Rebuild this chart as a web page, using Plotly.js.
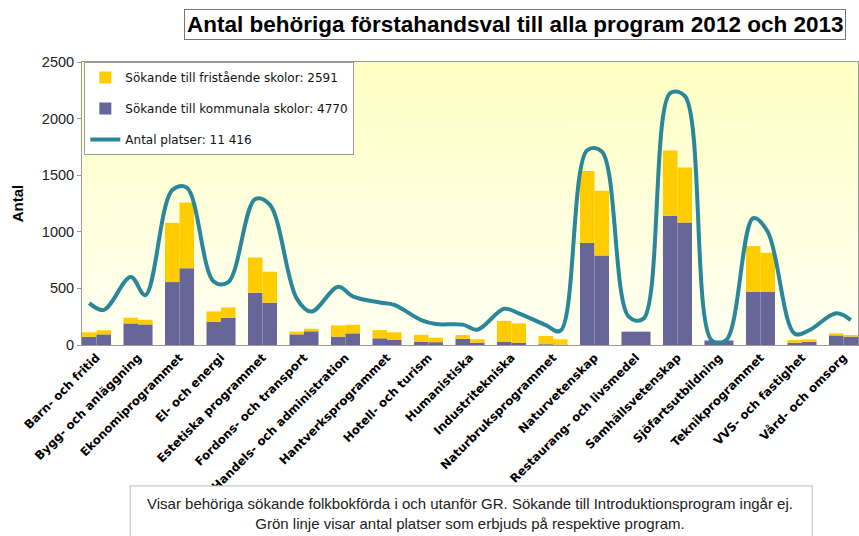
<!DOCTYPE html>
<html>
<head>
<meta charset="utf-8">
<script src="https://cdn.plot.ly/plotly-3.0.1.min.js"></script>
<style>
  body { margin: 0; background: #fff; }
  #chart { width: 859px; height: 536px; }
</style>
</head>
<body>
<div id="chart"></div>
<script>
const programs = [
  'Barn- och fritid', 'Bygg- och anläggning', 'Ekonomiprogrammet', 'El- och energi',
  'Estetiska programmet', 'Fordons- och transport', 'Handels- och administration',
  'Hantverksprogrammet', 'Hotell- och turism', 'Humanistiska', 'Industritekniska',
  'Naturbruksprogrammet', 'Naturvetenskap', 'Restaurang- och livsmedel',
  'Samhällsvetenskap', 'Sjöfartsutbildning', 'Teknikprogrammet', 'VVS- och fastighet',
  'Vård- och omsorg'
];

// sökande
const kommunala2012 = [73, 191, 556, 206, 462, 94, 74, 59, 30, 55, 30, 7, 903, 118, 1141, 40, 471, 21, 85];
const fristaende2012 = [39, 50, 523, 91, 311, 24, 99, 73, 60, 33, 183, 73, 634, 0, 577, 0, 403, 23, 18];
const kommunala2013 = [94, 182, 679, 241, 374, 121, 103, 44, 25, 21, 20, 3, 790, 118, 1083, 40, 471, 29, 74];
const fristaende2013 = [36, 41, 580, 91, 273, 23, 76, 68, 40, 29, 171, 47, 572, 0, 485, 0, 344, 21, 14];

// antal platser
const platser2012 = [370, 600, 1370, 560, 1290, 410, 515, 375, 220, 180, 320, 175, 1720, 250, 2225, 40, 1120, 100, 280];
const platser2013 = [310, 440, 1390, 555, 1240, 295, 430, 355, 185, 135, 280, 125, 1710, 230, 2200, 45, 1000, 130, 220];

const legendNames = {
  fri: 'Sökande till fristående skolor: 2591',
  komm: 'Sökande till kommunala skolor: 4770',
  platser: 'Antal platser: 11 416'
};

const FONT = 'Arial, "Liberation Sans", sans-serif';
const WIDE = '"DejaVu Sans", Arial, sans-serif';
const purple = '#666699';
const yellow = '#FFCC00';
const teal = '#2A8799';

const idx = programs.map((_, i) => i);
const bargap = 0.3;
const off = (1 - bargap) / 4; // centre of each year's bar

// line goes through every bar centre, 2012 then 2013
const lineX = [];
const lineY = [];
idx.forEach(i => {
  lineX.push(i - off, i + off);
  lineY.push(platser2012[i], platser2013[i]);
});

const traces = [
  {type: 'bar', x: idx, y: kommunala2012, offsetgroup: 'y12', marker: {color: purple},
   name: legendNames.komm, legendgroup: 'komm', legendrank: 2, hoverinfo: 'skip'},
  {type: 'bar', x: idx, y: fristaende2012, base: kommunala2012, offsetgroup: 'y12', marker: {color: yellow},
   name: legendNames.fri, legendgroup: 'fri', legendrank: 1, hoverinfo: 'skip'},
  {type: 'bar', x: idx, y: kommunala2013, offsetgroup: 'y13', marker: {color: purple},
   name: legendNames.komm, legendgroup: 'komm', showlegend: false, hoverinfo: 'skip'},
  {type: 'bar', x: idx, y: fristaende2013, base: kommunala2013, offsetgroup: 'y13', marker: {color: yellow},
   name: legendNames.fri, legendgroup: 'fri', showlegend: false, hoverinfo: 'skip'},
  {type: 'scatter', mode: 'lines', x: lineX, y: lineY,
   line: {color: teal, width: 4, shape: 'spline', smoothing: 1},
   name: legendNames.platser, legendgroup: 'platser', legendrank: 3, hoverinfo: 'skip'}
];

// soft yellow background of the plot area
const cv = document.createElement('canvas');
cv.width = 4; cv.height = 200;
const ctx = cv.getContext('2d');
const grad = ctx.createLinearGradient(0, 0, 0, 200);
grad.addColorStop(0, '#FFFFC4');
grad.addColorStop(1, '#FFFFF3');
ctx.fillStyle = grad;
ctx.fillRect(0, 0, 4, 200);
const bgUrl = cv.toDataURL();

const layout = {
  width: 859,
  height: 536,
  margin: {l: 82, r: 1, t: 62, b: 191},
  paper_bgcolor: '#ffffff',
  plot_bgcolor: 'rgba(0,0,0,0)',
  font: {family: FONT, color: '#000'},
  barmode: 'group',
  bargap: bargap,
  bargroupgap: 0,
  showlegend: true,
  legend: {
    x: 0.003, y: 1, xanchor: 'left', yanchor: 'top',
    bgcolor: '#ffffff', bordercolor: '#999', borderwidth: 1,
    font: {family: WIDE, size: 12, color: '#111'},
    tracegroupgap: 12
  },
  xaxis: {
    type: 'linear',
    range: [-0.35, programs.length - 0.65],
    tickmode: 'array',
    tickvals: idx,
    ticktext: programs,
    tickangle: -45,
    ticks: '',
    tickfont: {family: WIDE, size: 11.8, color: '#000', weight: 'bold'},
    showgrid: false,
    zeroline: false,
    showline: true, linecolor: '#999', linewidth: 1, mirror: true,
    fixedrange: true
  },
  yaxis: {
    range: [0, 2500],
    dtick: 500,
    ticks: 'outside', ticklen: 4, tickcolor: '#999',
    tickfont: {family: FONT, size: 14.5, color: '#222'},
    showgrid: false,
    zeroline: false,
    showline: true, linecolor: '#999', linewidth: 1, mirror: true,
    title: {text: 'Antal', font: {family: FONT, size: 15, weight: 'bold'}, standoff: 14},
    fixedrange: true
  },
  images: [{
    source: bgUrl, xref: 'paper', yref: 'paper', x: 0, y: 1, sizex: 1, sizey: 1,
    xanchor: 'left', yanchor: 'top', sizing: 'stretch', layer: 'below'
  }],
  shapes: [{
    type: 'rect', xref: 'paper', yref: 'paper',
    x0: 0.062, x1: 0.941, y0: -0.498, y1: -0.75,
    line: {color: '#bbb', width: 1}, fillcolor: '#ffffff'
  }],
  annotations: [
    {
      text: '<b>Antal behöriga förstahandsval till alla program 2012 och 2013</b>',
      xref: 'paper', yref: 'paper', x: 0.558, y: 1.131,
      xanchor: 'center', yanchor: 'middle', showarrow: false,
      font: {family: FONT, size: 22.5, color: '#000'},
      bordercolor: '#777', borderwidth: 1, borderpad: 2, bgcolor: '#fff'
    },
    {
      text: 'Visar behöriga sökande folkbokförda i och utanför GR. Sökande till Introduktionsprogram ingår ej.<br>Grön linje visar antal platser som erbjuds på respektive program.',
      xref: 'paper', yref: 'paper', x: 0.5, y: -0.595,
      xanchor: 'center', yanchor: 'middle', showarrow: false,
      font: {family: FONT, size: 15, color: '#222'}
    }
  ]
};

Plotly.newPlot('chart', traces, layout, {displayModeBar: false, staticPlot: true});
</script>
</body>
</html>
